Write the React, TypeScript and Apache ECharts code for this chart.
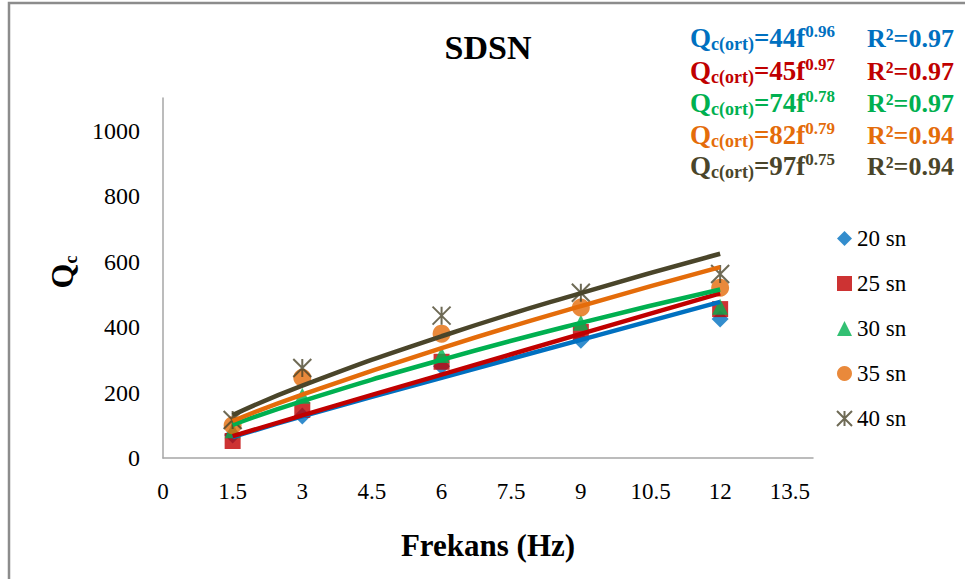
import React, { useEffect, useRef } from "react";
import * as echarts from "echarts";

const freqs = [1.5, 3, 6, 9, 12];
const seriesNames = ["20 sn", "25 sn", "30 sn", "35 sn", "40 sn"];
const obs20 = [70, 128, 280, 360, 425];
const obs25 = [52, 147, 294, 385, 455];
const obs30 = [85, 190, 315, 413, 462];
const obs35 = [100, 245, 380, 460, 520];
const obs40 = [116, 275, 435, 505, 562];
const fit20 = [64, 127, 245, 361, 477];
const fit25 = [67, 130, 255, 379, 503];
const fit30 = [101, 174, 300, 413, 515];
const fit35 = [113, 194, 336, 464, 583];
const fit40 = [131, 221, 372, 504, 624];
const eqCoef = ["44", "45", "74", "82", "97"];
const eqExp = ["0.96", "0.97", "0.78", "0.79", "0.75"];
const r2Vals = ["0.97", "0.97", "0.97", "0.94", "0.94"];
const xTicks = [0, 1.5, 3, 4.5, 6, 7.5, 9, 10.5, 12, 13.5];

const colors = ["#0070C0", "#C00000", "#00B050", "#E46C0A", "#4A452A"];
const FONT = "Liberation Serif";
const STAR = "path://M0,0L16,16M16,0L0,16M8,0L8,16";

export default function App() {
  const ref = useRef<HTMLDivElement>(null);
  useEffect(() => {
    document.body.style.margin = "0";
    const chart = echarts.init(ref.current!, null, { renderer: "svg" });
    const obs = [obs20, obs25, obs30, obs35, obs40];
    const fits = [fit20, fit25, fit30, fit35, fit40];
    const symbols = ["diamond", "rect", "triangle", "circle", STAR];
    const sizes = [17, 16, 16, 18, 18];

    const scatter = obs.map((vals, i) => ({
      type: "scatter",
      name: seriesNames[i],
      data: vals.map((v, k) => [freqs[k], v]),
      symbol: symbols[i],
      symbolSize: sizes[i],
      z: 2,
      itemStyle:
        i === 4
          ? { color: "rgba(0,0,0,0)", borderColor: colors[i], borderWidth: 2 }
          : { color: colors[i] },
    }));
    const lines = fits.map((vals, i) => ({
      type: "line",
      name: "fit" + i,
      data: vals.map((v, k) => [freqs[k], v]),
      smooth: true,
      showSymbol: false,
      symbol: "none",
      z: 3,
      lineStyle: { color: colors[i], width: 4.5 },
      silent: true,
    }));

    const eqGraphics: any[] = [];
    const rowY = [38, 71, 103, 135, 166];
    for (let i = 0; i < 5; i++) {
      eqGraphics.push({
        type: "text",
        x: 690,
        y: rowY[i],
        style: {
          text: `{q|Q}{s|c(ort)}{q|=${eqCoef[i]}f}{p|${eqExp[i]}}`,
          verticalAlign: "middle",
          align: "left",
          fill: colors[i],
          rich: {
            q: { fontSize: 27, fontWeight: "bold", fontFamily: FONT, lineHeight: 30, verticalAlign: "middle", fill: colors[i] },
            s: { fontSize: 18, fontWeight: "bold", fontFamily: FONT, lineHeight: 15, verticalAlign: "bottom", fill: colors[i] },
            p: { fontSize: 17, fontWeight: "bold", fontFamily: FONT, lineHeight: 13, verticalAlign: "top", fill: colors[i] },
          },
        },
      });
      eqGraphics.push({
        type: "text",
        x: 867,
        y: rowY[i],
        style: {
          text: `R²=${r2Vals[i]}`,
          fontSize: 26,
          fontWeight: "bold",
          fontFamily: FONT,
          fill: colors[i],
          verticalAlign: "middle",
          align: "left",
        },
      });
    }

    chart.setOption({
      animation: false,
      backgroundColor: "#fff",
      grid: { left: 163, right: 152, top: 98, bottom: 121 },
      legend: {
        data: seriesNames,
        orient: "vertical",
        left: 831,
        top: 222,
        itemWidth: 15,
        itemHeight: 15,
        itemGap: 22,
        textStyle: { fontFamily: FONT, fontSize: 23, color: "#000" },
      },
      xAxis: {
        type: "value",
        min: 0,
        max: 14,
        interval: 1.5,
        name: "Frekans (Hz)",
        nameLocation: "middle",
        nameGap: 72,
        nameTextStyle: { fontFamily: FONT, fontSize: 31, fontWeight: "bold", color: "#000" },
        axisLine: { show: true, lineStyle: { color: "#A6A6A6", width: 1.5 } },
        axisTick: { show: false },
        splitLine: { show: false },
        axisLabel: {
          fontFamily: FONT,
          fontSize: 23,
          color: "#000",
          margin: 22,
          formatter: (v: number) => (xTicks.some((t) => Math.abs(t - v) < 1e-6) ? String(v) : ""),
        },
      },
      yAxis: {
        type: "value",
        min: 0,
        max: 1100,
        interval: 200,
        axisLine: { show: true, lineStyle: { color: "#A6A6A6", width: 1.5 } },
        axisTick: { show: false },
        splitLine: { show: false },
        axisLabel: {
          fontFamily: FONT,
          fontSize: 24,
          color: "#000",
          margin: 23,
          formatter: (v: number) => (v > 1000 ? "" : String(v)),
        },
      },
      graphic: [
        {
          type: "rect",
          shape: { x: 9, y: 3, width: 975, height: 600 },
          style: { fill: "none", stroke: "#8C8C8C", lineWidth: 2.5 },
          silent: true,
        },
        {
          type: "text",
          x: 488,
          y: 47,
          style: {
            text: "SDSN",
            fontFamily: FONT,
            fontSize: 34,
            fontWeight: "bold",
            fill: "#000",
            align: "center",
            verticalAlign: "middle",
          },
        },
        {
          type: "text",
          x: 62,
          y: 272,
          rotation: Math.PI / 2,
          style: {
            text: "{q|Q}{s|c}",
            align: "center",
            verticalAlign: "middle",
            rich: {
              q: { fontSize: 32, fontWeight: "bold", fontFamily: FONT, lineHeight: 36, verticalAlign: "middle", fill: "#000" },
              s: { fontSize: 18, fontWeight: "bold", fontFamily: FONT, lineHeight: 17, verticalAlign: "bottom", fill: "#000" },
            },
          },
        },
        ...eqGraphics,
      ],
      series: [...scatter, ...lines],
    });
    return () => chart.dispose();
  }, []);
  return <div ref={ref} style={{ width: 965, height: 579 }} />;
}
